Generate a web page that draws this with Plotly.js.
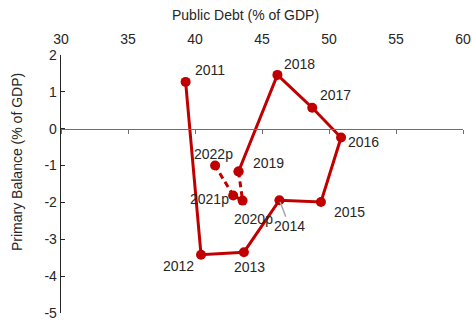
<!DOCTYPE html>
<html>
<head>
<meta charset="utf-8">
<script src="https://cdn.plot.ly/plotly-3.0.1.min.js"></script>
<style>html,body{margin:0;padding:0;background:#fff;}#chart{width:472px;height:322px;}</style>
</head>
<body>
<div id="chart"></div>
<script>
// Data: public debt (% of GDP) vs primary balance (% of GDP)
const yearsActual = ["2011","2012","2013","2014","2015","2016","2017","2018","2019"];
const debtActual = [39.3, 40.45, 43.65, 46.3, 49.4, 50.9, 48.75, 46.15, 43.25];
const balanceActual = [1.27, -3.42, -3.35, -1.94, -1.99, -0.24, 0.57, 1.46, -1.16];

const yearsProj = ["2019","2020p","2021p","2022p"];
const debtProj = [43.25, 43.55, 42.85, 41.5];
const balanceProj = [-1.16, -1.95, -1.81, -1.0];

const xTicks = [30, 35, 40, 45, 50, 55, 60];
const yTicks = [2, 1, 0, -1, -2, -3, -4, -5];

// label offsets (pixels) — styling only
const labelOffsets = {
  "2011": [24, 12], "2012": [-23, -11], "2013": [6, -15], "2014": [10, -26],
  "2015": [29, -10], "2016": [22, -4], "2017": [23, 13], "2018": [22, 11],
  "2019": [30, 8], "2020p": [11, -18], "2021p": [-24, -4], "2022p": [-2, 12]
};

const red = "#C00000";
const traces = [
  {x: debtActual, y: balanceActual, type: "scatter", mode: "lines+markers",
   xaxis: "x", yaxis: "y",
   line: {color: red, width: 3}, marker: {color: red, size: 10}, hoverinfo: "skip"},
  {x: debtProj, y: balanceProj, type: "scatter", mode: "lines+markers",
   xaxis: "x2", yaxis: "y",
   line: {color: red, width: 3, dash: "6px,4px"}, marker: {color: red, size: 10}, hoverinfo: "skip"}
];

const txtFont = {family: "Liberation Sans, Arial, sans-serif", size: 14, color: "#262626"};
const annotations = [];
function addLabels(years, xs, ys, xref) {
  years.forEach((yr, i) => {
    if (xref === "x2" && yr === "2019") return;
    const off = labelOffsets[yr];
    if (yr === "2014") {
      annotations.push({x: xs[i], y: ys[i], xref: xref, yref: "y", text: yr,
        showarrow: true, arrowhead: 0, arrowwidth: 1.5, arrowcolor: "#a6a6a6",
        ax: off[0], ay: -off[1], standoff: 2, font: txtFont});
    } else {
      annotations.push({x: xs[i], y: ys[i], xref: xref, yref: "y", text: yr,
        showarrow: false, xshift: off[0], yshift: off[1], font: txtFont});
    }
  });
}
addLabels(yearsActual, debtActual, balanceActual, "x");
addLabels(yearsProj, debtProj, balanceProj, "x2");

annotations.push({text: "Public Debt (% of GDP)", xref: "paper", yref: "paper",
  x: (245 - 61) / 402, y: 1, yshift: 40, showarrow: false, xanchor: "center", yanchor: "middle",
  font: txtFont});
annotations.push({text: "Primary Balance (% of GDP)", xref: "paper", yref: "paper",
  x: 0, xshift: -44, y: (313 - 162) / 258, textangle: -90, showarrow: false,
  xanchor: "center", yanchor: "middle", font: txtFont});

const layout = {
  width: 472, height: 322,
  margin: {l: 61, r: 9, t: 55, b: 9, pad: 0},
  paper_bgcolor: "#ffffff", plot_bgcolor: "#ffffff",
  showlegend: false,
  font: txtFont,
  xaxis: {range: [30, 60], anchor: "free", position: 5/7, side: "bottom",
    showline: true, linecolor: "#6f6f6f", linewidth: 1.3,
    ticks: "outside", ticklen: 4, tickcolor: "#6f6f6f", tickwidth: 1,
    tickvals: xTicks, showticklabels: false, showgrid: false, zeroline: false, fixedrange: true},
  xaxis2: {range: [30, 60], overlaying: "x", anchor: "y", side: "top",
    showline: false, ticks: "", tickvals: xTicks, ticktext: xTicks.map(String),
    ticklabelstandoff: 7, ticklabeloverflow: "allow",
    showgrid: false, zeroline: false, tickfont: txtFont, fixedrange: true},
  yaxis: {range: [-5, 2], showline: true, linecolor: "#262626", linewidth: 1.3,
    ticks: "inside", ticklen: 4, tickcolor: "#262626", tickwidth: 1,
    tickvals: yTicks, ticktext: yTicks.map(String), ticklabeloverflow: "allow",
    showgrid: false, zeroline: false, tickfont: txtFont, fixedrange: true},
  annotations: annotations
};

Plotly.newPlot("chart", traces, layout, {displayModeBar: false, staticPlot: true});
</script>
</body>
</html>
